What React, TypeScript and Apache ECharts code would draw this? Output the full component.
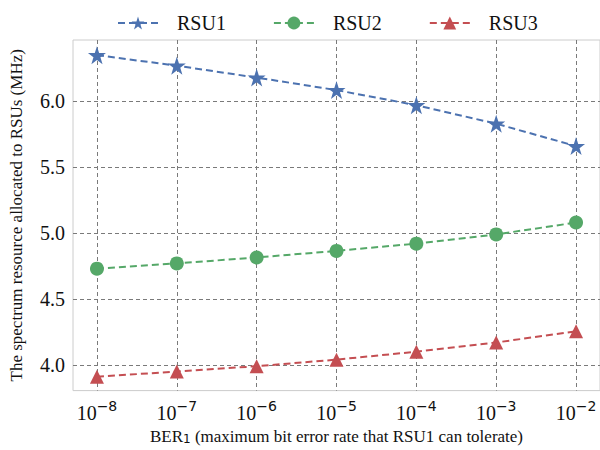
import { useEffect, useRef } from 'react';
import * as echarts from 'echarts';

const exponents = [-8, -7, -6, -5, -4, -3, -2];
const rsu1 = [6.35, 6.27, 6.18, 6.085, 5.97, 5.83, 5.66];
const rsu2 = [4.73, 4.77, 4.815, 4.865, 4.92, 4.99, 5.08];
const rsu3 = [3.91, 3.95, 3.99, 4.04, 4.1, 4.17, 4.255];
const yTicks = [4.0, 4.5, 5.0, 5.5, 6.0];
const seriesNames = ['RSU1', 'RSU2', 'RSU3'];
const colors = ['#4C72B0', '#55A868', '#C44E52'];
const symbols = [
  'path://M50,0 L61.8,35.4 L99,35.4 L69,57.3 L80.4,92.7 L50,70.8 L19.6,92.7 L31,57.3 L1,35.4 L38.2,35.4 Z',
  'circle',
  'triangle',
];
const symbolSizes = [18, 14, 14];

const serif = 'Liberation Serif';
const sans = 'DejaVu Sans';

export default function App() {
  const ref = useRef<HTMLDivElement>(null);
  useEffect(() => {
    if (!ref.current) return;
    const chart = echarts.init(ref.current, undefined, { renderer: 'svg' });
    const allData = [rsu1, rsu2, rsu3];
    chart.setOption({
      animation: false,
      backgroundColor: '#ffffff',
      legend: {
        top: 8,
        left: 112,
        itemWidth: 40,
        itemHeight: 16,
        itemGap: 47,
        data: seriesNames,
        textStyle: { fontFamily: serif, fontSize: 20, color: '#111', padding: [0, 0, 0, 14] },
      },
      grid: {
        left: 70,
        top: 40,
        width: 532,
        height: 354,
        show: true,
        borderColor: '#cccccc',
        borderWidth: 1,
        backgroundColor: 'transparent',
      },
      xAxis: {
        type: 'value',
        min: -8.3,
        max: -1.7,
        name: '{a|BER}{sub|1}{a| (maximum bit error rate that RSU1 can tolerate)}',
        nameLocation: 'middle',
        nameGap: 35,
        nameTextStyle: {
          rich: {
            a: { fontFamily: serif, fontSize: 17, color: '#111' },
            sub: { fontFamily: sans, fontSize: 12, color: '#111', padding: [6, 0, 0, 0] },
          },
        },
        axisLine: { show: false },
        axisTick: { show: false, customValues: exponents },
        axisLabel: {
          customValues: exponents,
          margin: 8,
          formatter: (v: number) => `{b|10}{s|\u2212${Math.abs(Math.round(v))}}`,
          rich: {
            b: { fontFamily: serif, fontSize: 20, color: '#111', verticalAlign: 'bottom' },
            s: { fontFamily: sans, fontSize: 14, color: '#111', verticalAlign: 'bottom', padding: [0, 0, 10, 0] },
          },
        },
        splitLine: {
          show: true,
          lineStyle: { color: '#7a7a7a', type: [4, 3], width: 1 },
        },
      },
      yAxis: {
        type: 'value',
        min: 3.805,
        max: 6.465,
        name: 'The spectrum resource allocated to RSUs (MHz)',
        nameLocation: 'middle',
        nameGap: 48,
        nameTextStyle: { fontFamily: serif, fontSize: 17, color: '#111' },
        axisLine: { show: false },
        axisTick: { show: false, customValues: yTicks },
        axisLabel: {
          customValues: yTicks,
          margin: 8,
          fontFamily: serif,
          fontSize: 20,
          color: '#111',
          formatter: (v: number) => v.toFixed(1),
        },
        splitLine: {
          show: true,
          lineStyle: { color: '#7a7a7a', type: [4, 3], width: 1 },
        },
      },
      series: seriesNames.map((name, i) => ({
        name,
        type: 'line',
        data: exponents.map((e, j) => [e, allData[i][j]]),
        symbol: symbols[i],
        symbolSize: symbolSizes[i],
        showSymbol: true,
        color: colors[i],
        itemStyle: { color: colors[i] },
        lineStyle: { color: colors[i], width: 2, type: [7, 4] },
        z: 3,
      })),
    });
    return () => chart.dispose();
  }, []);
  return <div ref={ref} style={{ width: 600, height: 450, position: 'absolute', left: 0, top: 0 }} />;
}
